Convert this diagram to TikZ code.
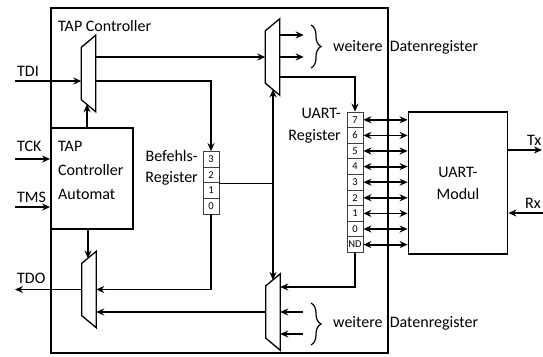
\documentclass[tikz,border=0pt]{standalone}
\usepackage{fontspec}
\setmainfont{Carlito}
\usetikzlibrary{arrows.meta,positioning,calc,decorations.pathreplacing}

\begin{document}
\begin{tikzpicture}[
  x=1pt, y=-1pt,
  font=\fontsize{16}{22}\selectfont,
  >={Stealth[length=8pt, width=7pt]},
  wire/.style={line width=1.8pt},
  ctl/.style={line width=1pt},
  box/.style={draw, line width=1.8pt, inner sep=0pt},
  lbl/.style={inner sep=0pt},
  mux/.style={minimum width=14pt, minimum height=76pt, inner sep=0pt},
  muxline/.style={draw, line width=1.3pt},
  cell/.style={draw=black!75, line width=0.8pt, fill=white, minimum width=16pt,
               minimum height=15.6pt, inner sep=0pt, font=\fontsize{10.5}{10.5}\selectfont},
  brace/.style={decorate, decoration={brace, amplitude=10pt}, line width=1.2pt},
]
  \useasboundingbox (0,0) rectangle (543,356);

  % TAP controller frame and automaton
  \node[box, minimum width=337pt, minimum height=345pt] (tapctl) at (219.5,180.5) {};
  \node[lbl, anchor=west] (taplbl) at (58,26) {TAP Controller};
  \node[box, minimum width=82pt, minimum height=101pt] (auto) at (92,178.5) {};
  \node[lbl, anchor=west, align=left] (autolbl) at (58,170) {TAP\\[2pt]Controller\\[2pt]Automat};

  % multiplexers
  \node[mux] (muxin)  at (88.5,73.5) {};
  \node[mux] (muxdr)  at (272.5,57)  {};
  \node[mux] (muxout) at (89,289.5)  {};
  \node[mux] (muxdo)  at (273,312)   {};
  \foreach \m in {muxin,muxdr,muxout,muxdo}
    \draw[muxline] (\m.north east) -- (\m.south east) -- ([yshift=12pt]\m.south west)
      -- ([yshift=-12pt]\m.north west) -- cycle;
  \coordinate (inB)  at (87,104.2);
  \coordinate (outT) at (88,258.4);
  \coordinate (drB)  at (273,89.4);
  \coordinate (doT)  at (273,280);

  % registers
  \foreach \b [count=\i from 0] in {3,2,1,0}
    \node[cell] (ir\b) at (211,159.3+15.6*\i) {\b};
  \node[lbl, anchor=east, align=right] (irlbl) at (198,167.5) {Befehls-\\[-1pt]Register};
  \foreach \b [count=\i from 0] in {7,6,5,4,3,2,1,0,ND}
    \node[cell] (ur\b) at (355,119.8+15.6*\i) {\b};
  \node[lbl, anchor=east, align=right] (urlbl) at (341,126) {UART-\\Register};

  \node[box, minimum width=99pt, minimum height=142pt, align=center] (uart) at (458,183) {UART-\\Modul};

  % pins
  \coordinate (tdi) at (15,81);
  \coordinate (tck) at (15,159);
  \coordinate (tms) at (15,207);
  \coordinate (tdo) at (15,289.5);
  \coordinate (tx)  at (542,150);
  \coordinate (rx)  at (543,213);
  \node[lbl, anchor=west] (tdilbl) at (17,71)  {TDI};
  \node[lbl, anchor=west] (tcklbl) at (17,146) {TCK};
  \node[lbl, anchor=west] (tmslbl) at (17,197) {TMS};
  \node[lbl, anchor=west] (tdolbl) at (17,278) {TDO};
  \node[lbl, anchor=west] (txlbl)  at (527,140) {Tx};
  \node[lbl, anchor=west] (rxlbl)  at (525,203) {Rx};

  \draw[wire, ->] (tdi) -- (tdi -| muxin.west);
  \draw[wire, ->] (tck) -- (tck -| auto.west);
  \draw[wire, ->] (tms) -- (tms -| auto.west);
  \draw[wire, ->] (muxout.west) -- (tdo);
  \draw[wire, ->] (auto.north -| inB) -- (inB);
  \draw[wire, ->] (auto.south -| outT) -- (outT);
  \draw[wire, ->] ([yshift=16.5pt]muxin.east) -- (muxdr.west);
  \draw[wire, ->] ([yshift=-7.5pt]muxin.east) -| (ir3.north);
  \draw[wire, ->] (ir0.south) |- (muxout.east);
  \draw[wire, ->] (muxdo.west) -- (muxdo.west -| muxout.east);
  \draw[wire, <->] (drB) -- (doT);
  \draw[ctl] (ir2.south east) -- (ir2.south east -| drB);

  % data register select
  \draw[wire, ->] ([yshift=22pt]muxdr.east) -- ++(24,0);
  \draw[wire, ->] (muxdr.east) -- ++(24,0);
  \draw[wire, ->] ([yshift=-20pt]muxdr.east) -| (ur7.north);
  \draw[wire, ->] (urND.south) |- ([yshift=25pt]muxdo.east);
  \draw[wire, <-] (muxdo.east) -- ++(23,0);
  \draw[wire, <-] ([yshift=-22pt]muxdo.east) -- ++(23,0);
  \foreach \b in {7,6,5,4,3,2,1,0,ND}
    \draw[wire, <->] (ur\b.east) -- (ur\b.east -| uart.west);
  \draw[wire, ->] (uart.east |- tx) -- (tx);
  \draw[wire, ->] (rx) -- (rx -| uart.east);

  \draw[brace] (311,25) -- (311,68);
  \node[lbl, anchor=west] (morein) at (333,47) {weitere\hspace{0.45em}Datenregister};
  \draw[brace] (311,303) -- (311,345);
  \node[lbl, anchor=west] (moreout) at (333,323) {weitere\hspace{0.45em}Datenregister};
\end{tikzpicture}
\end{document}
